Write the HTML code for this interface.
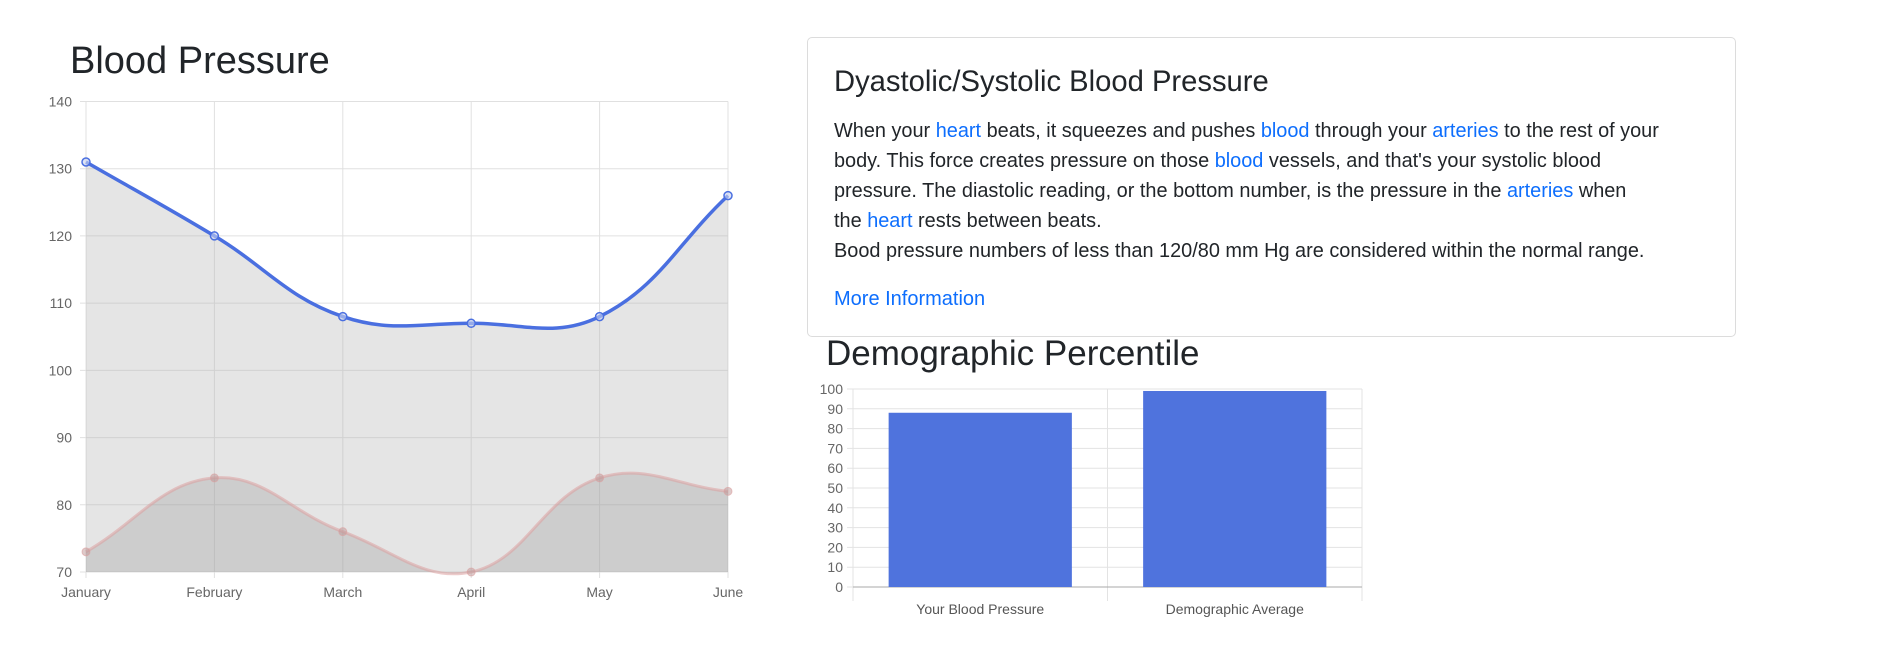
<!DOCTYPE html>
<html><head><meta charset="utf-8">
<style>
body{margin:0;width:1895px;height:653px;background:#fff;font-family:"Liberation Sans",sans-serif;overflow:hidden;position:relative}
.h{position:absolute;color:#212529;font-weight:400;margin:0;white-space:nowrap}
.card{position:absolute;left:807px;top:37px;width:929px;height:300px;border:1px solid #dcdcdc;border-radius:5px;box-sizing:border-box}
.p{position:absolute;left:26px;top:78px;font-size:19.9px;line-height:30px;color:#212529;white-space:nowrap}
a{color:#0d6efd;text-decoration:none}
</style></head><body>
<h1 class="h" style="left:70px;top:40px;font-size:38px">Blood Pressure</h1>
<svg id="lc" width="760" height="620" style="position:absolute;left:0;top:0"></svg>
<div class="card">
<h2 class="h" style="left:26px;top:28px;font-size:29.2px">Dyastolic/Systolic Blood Pressure</h2>
<div class="p">When your <a href="#">heart</a> beats, it squeezes and pushes <a href="#">blood</a> through your <a href="#">arteries</a> to the rest of your<br>body. This force creates pressure on those <a href="#">blood</a> vessels, and that's your systolic blood<br>pressure. The diastolic reading, or the bottom number, is the pressure in the <a href="#">arteries</a> when<br>the <a href="#">heart</a> rests between beats.<br>Bood pressure numbers of less than 120/80 mm Hg are considered within the normal range.</div>
<a href="#" style="position:absolute;left:26px;top:250px;font-size:20px">More Information</a>
</div>
<h2 class="h" style="left:826px;top:334px;font-size:35px">Demographic Percentile</h2>
<svg id="bc" width="1895" height="653" style="position:absolute;left:0;top:0;pointer-events:none"></svg>
<script>
const months=["January","February","March","April","May","June"];
const systolic=[131,120,108,107,108,126];
const diastolic=[73,84,76,70,84,82];
const yTicks=[70,80,90,100,110,120,130,140];
const barCats=["Your Blood Pressure","Demographic Average"];
const barVals=[88,99];
const barTicks=[0,10,20,30,40,50,60,70,80,90,100];
const NS="http://www.w3.org/2000/svg";
function mk(p,t,a){const e=document.createElementNS(NS,t);for(const k in a)e.setAttribute(k,a[k]);p.appendChild(e);return e;}
// line chart
const lc=document.getElementById('lc');
const L=86,R=728,T=101.5,B=572;
const xs=i=>L+i*(R-L)/(months.length-1);
const ys=v=>B-(v-70)/(140-70)*(B-T);
yTicks.forEach(v=>{const g=mk(lc,'line',{x1:L-6,x2:R,y1:ys(v),y2:ys(v),stroke:'#e0e0e0'});

const t=mk(lc,'text',{x:L-14,y:ys(v)+5,'text-anchor':'end','font-size':14,fill:'#666'});t.textContent=v;
});
months.forEach((m,i)=>{const g=mk(lc,'line',{x1:xs(i),x2:xs(i),y1:T,y2:B+6,stroke:'#e0e0e0'});

const t=mk(lc,'text',{x:xs(i),y:597,'text-anchor':'middle','font-size':14,fill:'#666'});t.textContent=m;
});
function spline(vals){const p=vals.map((v,i)=>[xs(i),ys(v)]);const tn=0.4;let d=`M${p[0][0]},${p[0][1]}`;
const cps=p.map((c,i)=>{const pr=p[i-1]||c,nx=p[i+1]||c;const d01=Math.hypot(c[0]-pr[0],c[1]-pr[1]),d12=Math.hypot(nx[0]-c[0],nx[1]-c[1]);
const s=d01+d12||1;const fa=tn*d01/s,fb=tn*d12/s;return{pv:[c[0]-fa*(nx[0]-pr[0]),c[1]-fa*(nx[1]-pr[1])],nx:[c[0]+fb*(nx[0]-pr[0]),c[1]+fb*(nx[1]-pr[1])]};});
for(let i=1;i<p.length;i++)d+=` C${cps[i-1].nx[0]},${cps[i-1].nx[1]} ${cps[i].pv[0]},${cps[i].pv[1]} ${p[i][0]},${p[i][1]}`;return d;}
const sp=spline(systolic),dp=spline(diastolic);
let e=mk(lc,'path',{d:sp+` L${R},${B} L${L},${B} Z`,fill:'rgba(180,180,180,0.35)'});

e=mk(lc,'path',{d:dp+` L${R},${B} L${L},${B} Z`,fill:'rgba(150,150,150,0.3)'});

e=mk(lc,'path',{d:dp,fill:'none',stroke:'rgba(220,160,160,0.55)','stroke-width':3});

e=mk(lc,'path',{d:sp,fill:'none',stroke:'#4a6fe0','stroke-width':3.5});

diastolic.forEach((v,i)=>{const c=mk(lc,'circle',{cx:xs(i),cy:ys(v),r:4,fill:'rgba(190,150,150,0.5)',stroke:'rgba(220,160,160,0.6)'});
});
systolic.forEach((v,i)=>{const c=mk(lc,'circle',{cx:xs(i),cy:ys(v),r:4,fill:'rgba(200,210,240,0.6)',stroke:'#4a6fe0','stroke-width':1.5});
});
// bar chart
const bc=document.getElementById('bc');
const BL=853,BR=1362,BT=389,BB=587;
const by=v=>BB-v/100*(BB-BT);
const bw=(BR-BL)/barCats.length;
barTicks.forEach(v=>{const g=mk(bc,'line',{x1:BL-6,x2:BR,y1:by(v),y2:by(v),stroke:'#e3e3e3'});

const t=mk(bc,'text',{x:BL-10,y:by(v)+5,'text-anchor':'end','font-size':14,fill:'#666'});t.textContent=v;
});
for(let i=0;i<=barCats.length;i++){const g=mk(bc,'line',{x1:BL+i*bw,x2:BL+i*bw,y1:BT,y2:BB+14,stroke:'#e3e3e3'});
}
e=mk(bc,'line',{x1:BL,x2:BR,y1:BB,y2:BB,stroke:'#aaa'});

barCats.forEach((c,i)=>{const x=BL+i*bw+bw*0.14;const r=mk(bc,'rect',{x:x,y:by(barVals[i]),width:bw*0.72,height:BB-by(barVals[i]),fill:'#4f73dd'});

const t=mk(bc,'text',{x:BL+i*bw+bw/2,y:614,'text-anchor':'middle','font-size':14,fill:'#555'});t.textContent=c;
});
</script>
</body></html>
